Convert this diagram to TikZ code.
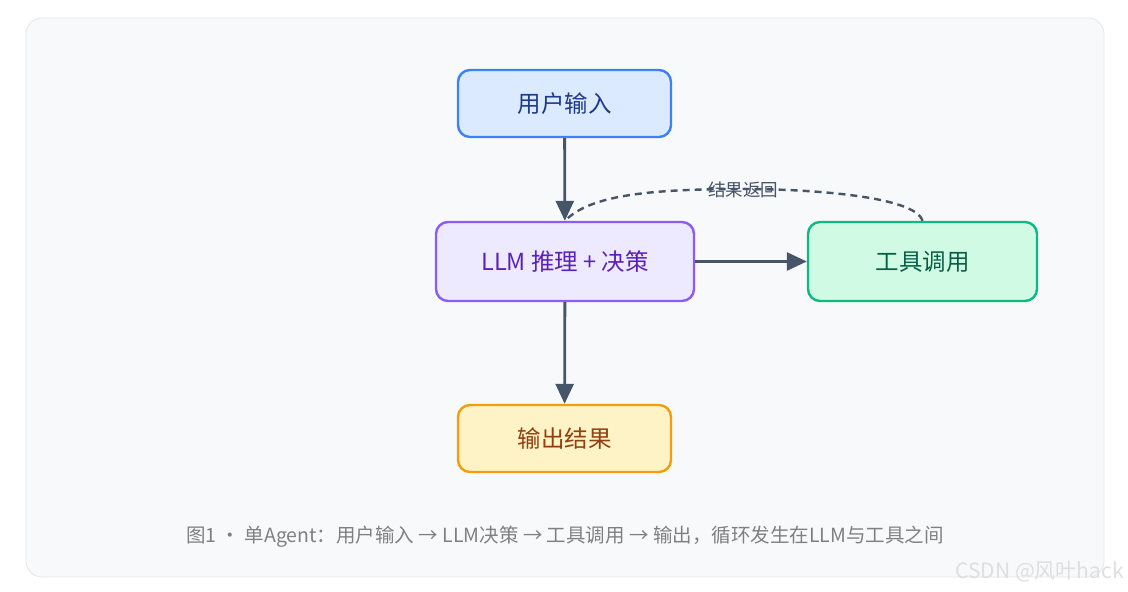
\documentclass[tikz,border=0pt]{standalone}
\usepackage{fontspec}
\setmainfont{Noto Sans CJK SC}
\usetikzlibrary{arrows.meta}
\definecolor{bg}{HTML}{F8F9FB}\definecolor{bgb}{HTML}{E5E7EB}
\definecolor{ar}{HTML}{475569}
\definecolor{bf}{HTML}{DBEAFE}\definecolor{bd}{HTML}{3B82F6}\definecolor{bt}{HTML}{1E3A8A}
\definecolor{pf}{HTML}{EDE9FE}\definecolor{pd}{HTML}{8B5CF6}\definecolor{pt}{HTML}{5B21B6}
\definecolor{gf}{HTML}{D1FAE5}\definecolor{gd}{HTML}{10B981}\definecolor{gt}{HTML}{065F46}
\definecolor{yf}{HTML}{FEF3C7}\definecolor{yd}{HTML}{F59E0B}\definecolor{yt}{HTML}{92400E}
\begin{document}
\begin{tikzpicture}[x=1pt,y=-1pt,
 box/.style={draw,line width=2.4pt,rounded corners=12pt,inner sep=0pt,font=\fontsize{23.5}{26}\selectfont},
 arr/.style={draw=ar,line width=2.8pt,-{Triangle[length=20pt,width=18pt]}}]
\useasboundingbox (0,0) rectangle (1128,592);
\fill[white] (0,0) rectangle (1128,592);
\draw[bgb,fill=bg,line width=0.8pt,rounded corners=16pt] (26,18) rectangle (1104,577);
\node[box,fill=bf,draw=bd,text=bt,minimum width=213pt,minimum height=67pt] (in) at (564.5,103.5) {用户输入};
\node[box,fill=pf,draw=pd,text=pt,minimum width=258pt,minimum height=79pt] (llm) at (565,261.5) {LLM 推理 + 决策};
\node[box,fill=gf,draw=gd,text=gt,minimum width=229pt,minimum height=79pt] (tool) at (922.5,261.5) {工具调用};
\node[box,fill=yf,draw=yd,text=yt,minimum width=213pt,minimum height=67pt] (out) at (564.5,438.5) {输出结果};
\draw[arr] (in) -- (llm);
\draw[arr] (llm) -- (tool);
\draw[arr] (llm) -- (out);
\draw[ar,line width=2.4pt,dash pattern=on 7pt off 5pt] (tool.north) .. controls (915,195) and (800,189) .. (745,189) .. controls (650,189) and (590,195) .. (llm.north);
\node[text=ar,font=\fontsize{17.5}{20}\selectfont,inner sep=0pt] (lbl) at (743,190) {结果返回};
\node[text=gray,font=\fontsize{19.5}{22}\selectfont,inner sep=0pt] (cap) at (565,537) {图1 · 单Agent：用户输入 → LLM决策 → 工具调用 → 输出，循环发生在LLM与工具之间};
\node[text=white!75!gray,font=\fontsize{21}{24}\selectfont,inner sep=0pt,anchor=east] (wm) at (1124,572) {CSDN @风叶hack};
\end{tikzpicture}
\end{document}
